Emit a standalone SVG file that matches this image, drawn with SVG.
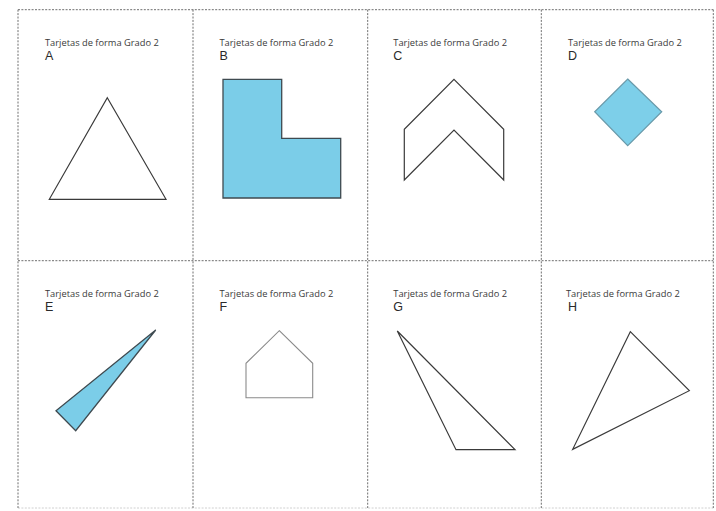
<svg xmlns="http://www.w3.org/2000/svg" width="716" height="511" viewBox="0 0 716 511">
<style>
.cut{stroke:#6e6e6e;stroke-width:1;stroke-dasharray:2 1.4;fill:none}
.cutb{stroke:#d0d0d0;stroke-width:1;stroke-dasharray:2 1.4;fill:none}
.title{font-family:"Open Sans","Noto Sans",sans-serif;font-size:9.3px;fill:#3a3a3a}
.letter{font-family:"Liberation Sans",Arial,sans-serif;font-size:12.5px;fill:#2a2a2a}
.line{fill:none;stroke:#3a3a3a;stroke-width:1.2;stroke-linejoin:miter}
.blue{fill:#7bcde8;stroke:#3f4a50;stroke-width:1.3}
</style>
<rect width="716" height="511" fill="#fff"/>
<g id="cut-lines">
<line class="cut" x1="18" y1="9.7" x2="713.3" y2="9.7"/>
<line class="cut" x1="18" y1="260.7" x2="713.3" y2="260.7"/>
<line class="cutb" x1="18" y1="508" x2="713.3" y2="508"/>
<line class="cut" x1="18" y1="9.7" x2="18" y2="508"/>
<line class="cut" x1="193" y1="9.7" x2="193" y2="508"/>
<line class="cut" x1="367.7" y1="9.7" x2="367.7" y2="508"/>
<line class="cut" x1="541.3" y1="9.7" x2="541.3" y2="508"/>
<line class="cut" x1="713.3" y1="9.7" x2="713.3" y2="508"/>
</g>
<g id="card-A">
<text class="title" x="45" y="46">Tarjetas de forma Grado 2</text>
<text class="letter" x="45" y="60.2">A</text>
<polygon class="line" points="107.3,97.7 166,199.3 49.3,199.3"/>
</g>
<g id="card-B">
<text class="title" x="219.5" y="46">Tarjetas de forma Grado 2</text>
<text class="letter" x="219.5" y="60.2">B</text>
<polygon class="blue" points="223,79.3 281.7,79.3 281.7,138.3 340.7,138.3 340.7,198 223,198"/>
</g>
<g id="card-C">
<text class="title" x="393.3" y="46">Tarjetas de forma Grado 2</text>
<text class="letter" x="393.3" y="60.2">C</text>
<polygon class="line" stroke-width="1.1" points="454,79.3 503.7,129.3 503.7,180 454,130 404.3,180 404.3,129.3"/>
</g>
<g id="card-D">
<text class="title" x="568" y="46">Tarjetas de forma Grado 2</text>
<text class="letter" x="568" y="60.2">D</text>
<polygon fill="#7dcfe9" stroke="#6a9aaa" stroke-width="1.2" points="627.7,79 661.7,111.7 627.7,145.7 594.7,111.7"/>
</g>
<g id="card-E">
<text class="title" x="45" y="297">Tarjetas de forma Grado 2</text>
<text class="letter" x="45" y="311.2">E</text>
<polygon class="blue" points="155.7,330 75.7,430.7 56,410.7"/>
</g>
<g id="card-F">
<text class="title" x="219.5" y="297">Tarjetas de forma Grado 2</text>
<text class="letter" x="219.5" y="311.2">F</text>
<polygon fill="none" stroke="#8a8a8a" stroke-width="1.1" points="279.3,330.7 312.7,363.3 312.7,397.7 246,397.7 246,363.3"/>
</g>
<g id="card-G">
<text class="title" x="393.3" y="297">Tarjetas de forma Grado 2</text>
<text class="letter" x="393.3" y="311.2">G</text>
<polygon class="line" points="397.3,331 515,449.7 456,449.7"/>
</g>
<g id="card-H">
<text class="title" x="566" y="297">Tarjetas de forma Grado 2</text>
<text class="letter" x="568" y="311.2">H</text>
<polygon class="line" points="630.3,331.7 689.3,390.7 572.7,449.3"/>
</g>
</svg>
